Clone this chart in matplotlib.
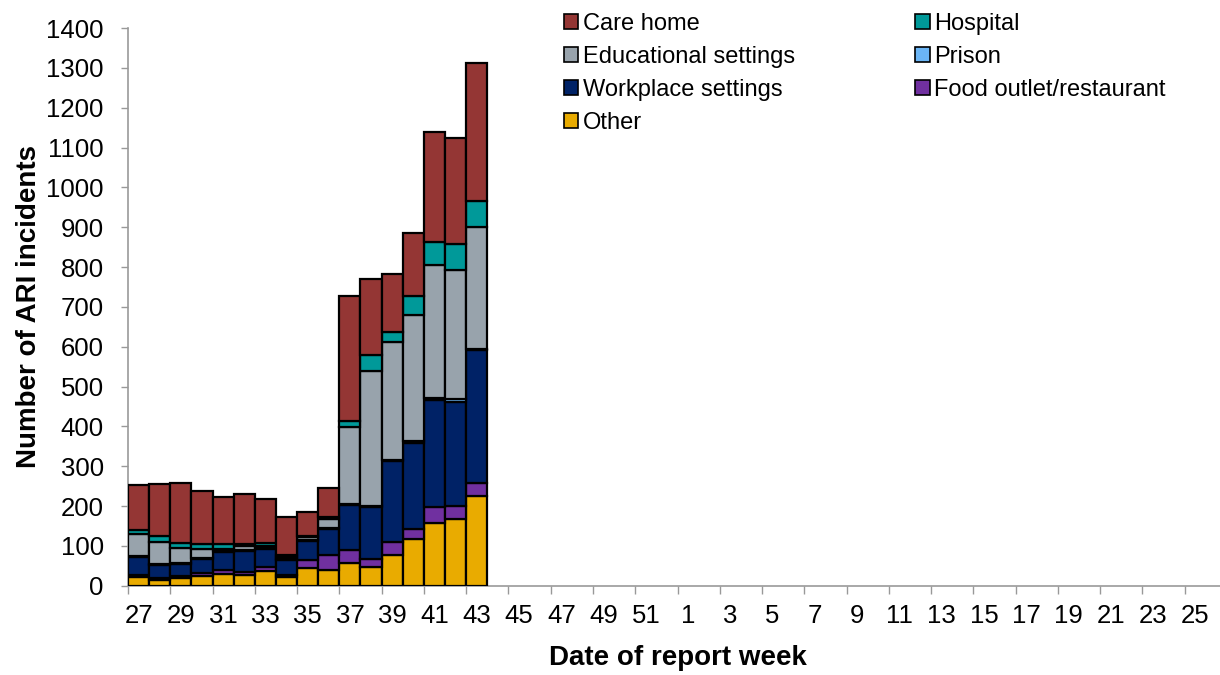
import matplotlib
matplotlib.use("Agg")
import matplotlib.pyplot as plt
import numpy as np
from matplotlib.patches import Patch

weeks = [str(w) for w in list(range(27, 53)) + list(range(1, 27))]

other     = [23, 15, 19, 24, 30, 26, 36, 22, 45, 40, 57, 48, 76, 116, 158, 167, 226]
food      = [5, 5, 5, 9, 10, 9, 11, 6, 20, 38, 33, 20, 34, 27, 40, 33, 32]
workplace = [45, 33, 30, 34, 44, 52, 46, 37, 48, 65, 113, 129, 203, 215, 267, 262, 334]
prison    = [2, 2, 2, 2, 2, 2, 2, 2, 2, 3, 3, 3, 3, 4, 7, 6, 3]
education = [55, 55, 38, 24, 6, 10, 5, 4, 8, 21, 192, 340, 296, 318, 333, 325, 305]
hospital  = [10, 16, 14, 12, 12, 6, 8, 5, 3, 6, 16, 38, 26, 46, 59, 65, 65]
care_home = [112, 129, 151, 133, 119, 125, 109, 97, 60, 73, 314, 193, 145, 160, 275, 267, 347]

series = [
    ("Other", other, "#E9AB00"),
    ("Food outlet/restaurant", food, "#7030A0"),
    ("Workplace settings", workplace, "#002266"),
    ("Prison", prison, "#6BB5F5"),
    ("Educational settings", education, "#98A3AC"),
    ("Hospital", hospital, "#009999"),
    ("Care home", care_home, "#943634"),
]

plt.rcParams['font.family'] = ['Liberation Sans', 'DejaVu Sans']

fig = plt.figure(figsize=(12.2, 6.75), dpi=100)
ax = fig.add_axes([128 / 1220, 1 - 585.7 / 675, 1099 / 1220, 557.7 / 675])

n = len(other)
x = np.arange(n)
bottom = np.zeros(n)
handles = {}
for name, vals, col in series:
    v = np.array(vals, dtype=float)
    ax.bar(x, v, width=1.0, bottom=bottom, color=col, edgecolor="black", linewidth=1.6, zorder=3)
    bottom += v
    handles[name] = Patch(facecolor=col, edgecolor="black", linewidth=1.2)

ax.set_xlim(-0.5, len(weeks) - 0.5)
ax.set_ylim(0, 1400)
ax.set_yticks(np.arange(0, 1401, 100))
ax.tick_params(axis='y', labelsize=18.5, length=5, color="#999999", width=1, pad=12.5)

major = np.arange(-0.5, len(weeks), 2)
ax.set_xticks(major)
ax.set_xticklabels([])
ax.set_xticks(np.arange(0, len(weeks), 2), minor=True)
ax.set_xticklabels(weeks[::2], minor=True, fontsize=18.5)
ax.tick_params(axis='x', which='major', length=6, color="#999999", width=1)
ax.tick_params(axis='x', which='minor', length=0, pad=13)

for s in ["top", "right"]:
    ax.spines[s].set_visible(False)
for s in ["left", "bottom"]:
    ax.spines[s].set_color("#999999")
    ax.spines[s].set_linewidth(1.2)

ax.set_ylabel("Number of ARI incidents", fontsize=20, fontweight="bold", labelpad=3)
ax.set_xlabel("Date of report week", fontsize=20, fontweight="bold", labelpad=12.5)

order = ["Care home", "Educational settings", "Workplace settings", "Other",
         "Hospital", "Prison", "Food outlet/restaurant"]
leg = fig.legend([handles[k] for k in order], order, ncol=2, loc="upper left",
                 bbox_to_anchor=(564 / 1220, 1 - 13 / 675), frameon=False, fontsize=17,
                 borderpad=0, borderaxespad=0,
                 handlelength=0.6, handleheight=0.6, handletextpad=0.2,
                 labelspacing=0.47, columnspacing=5.1)

fig.savefig("out.png", dpi=100)
